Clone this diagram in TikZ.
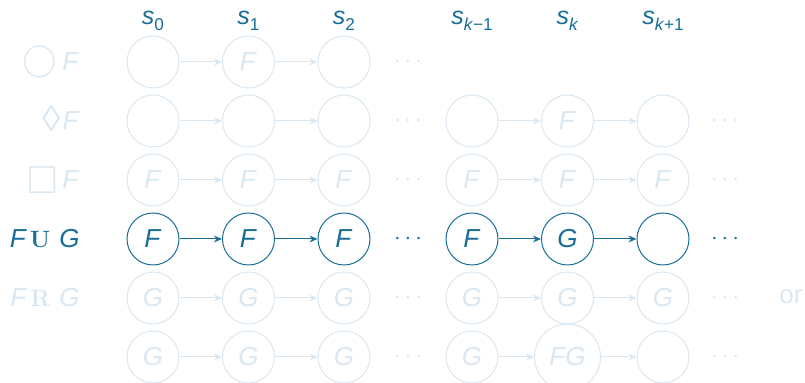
\documentclass[tikz,border=0pt]{standalone}
\usepackage{amssymb}
\usepackage{fontspec}
\setsansfont{Liberation Sans}
\usetikzlibrary{arrows.meta}
\definecolor{mainc}{RGB}{24,110,150}
\definecolor{fadec}{RGB}{218,231,241}
\newcommand\ssub[1]{\raisebox{-0.45ex}{\fontsize{8.6}{10}\selectfont #1}}
\newcommand\stl[1]{\textit{s}\ssub{#1}}
\begin{document}
\begin{tikzpicture}[x=0.5pt,y=-0.5pt,font=\sffamily\fontsize{13}{15}\selectfont,
  st/.style={circle,draw,minimum size=26pt,inner sep=0pt,line width=0.5pt},
  arr/.style={-{Stealth[length=4pt,width=3.4pt]},line width=0.5pt},
  lab/.style={anchor=base east,inner sep=0pt},
  hdr/.style={anchor=base,inner sep=0pt,font=\sffamily\fontsize{12.5}{14}\selectfont},
  dotsn/.style={anchor=base,inner sep=0pt}]
\useasboundingbox (0,0) rectangle (805,383);

% column headers
\begin{scope}[color=mainc]
\node[hdr] (h0) at (153,25) {\stl{0}};
\node[hdr] (h1) at (248.5,25) {\stl{1}};
\node[hdr] (h2) at (344,25) {\stl{2}};
\node[hdr] (h3) at (472,25) {\stl{\textit{k}−1}};
\node[hdr] (h4) at (567.5,25) {\stl{\textit{k}}};
\node[hdr] (h5) at (663,25) {\stl{\textit{k}+1}};
\end{scope}

% row 1: next F
\begin{scope}[color=fadec]
\node[lab] (l1) at (80,71) {{\fontsize{16.5}{16.5}\selectfont$\bigcirc$}\hspace{2.5pt}\textit{F}};
\node[st] (p0) at (153,62) {};
\node[st] (p1) at (248.5,62) {\textit{F}};
\node[st] (p2) at (344,62) {};
\node[dotsn] (pd) at (408,68) {$\cdots$};
\draw[arr] (p0) -- (p1);
\draw[arr] (p1) -- (p2);
\end{scope}

% row 2: eventually F
\begin{scope}[color=fadec]
\node[lab] (l2) at (80,130) {\raisebox{-1pt}{\fontsize{18.5}{18.5}\selectfont ◊}\hspace{1pt}\textit{F}};
\node[st] (q0) at (153,121) {};
\node[st] (q1) at (248.5,121) {};
\node[st] (q2) at (344,121) {};
\node[dotsn] (qd1) at (408,127) {$\cdots$};
\node[st] (q3) at (472,121) {};
\node[st] (q4) at (567.5,121) {\textit{F}};
\node[st] (q5) at (663,121) {};
\node[dotsn] (qd2) at (725,127) {$\cdots$};
\draw[arr] (q0) -- (q1);
\draw[arr] (q1) -- (q2);
\draw[arr] (q3) -- (q4);
\draw[arr] (q4) -- (q5);
\end{scope}

% row 3: always F
\begin{scope}[color=fadec]
\node[lab] (l3) at (80,189) {\raisebox{-2.3pt}{\fontsize{19.5}{19.5}\selectfont$\Box$}\hspace{2.5pt}\textit{F}};
\node[st] (r0) at (153,180) {\textit{F}};
\node[st] (r1) at (248.5,180) {\textit{F}};
\node[st] (r2) at (344,180) {\textit{F}};
\node[dotsn] (rd1) at (408,186) {$\cdots$};
\node[st] (r3) at (472,180) {\textit{F}};
\node[st] (r4) at (567.5,180) {\textit{F}};
\node[st] (r5) at (663,180) {\textit{F}};
\node[dotsn] (rd2) at (725,186) {$\cdots$};
\draw[arr] (r0) -- (r1);
\draw[arr] (r1) -- (r2);
\draw[arr] (r3) -- (r4);
\draw[arr] (r4) -- (r5);
\end{scope}

% row 4: F until G (highlighted)
\begin{scope}[color=mainc]
\node[lab] (l4) at (80,248) {\textit{F}\hspace{1.5pt}{\rmfamily\bfseries\fontsize{11.8}{12}\selectfont U}\hspace{4.5pt}\textit{G}};
\node[st] (u0) at (153,239) {\textit{F}};
\node[st] (u1) at (248.5,239) {\textit{F}};
\node[st] (u2) at (344,239) {\textit{F}};
\node[dotsn] (ud1) at (408,245) {$\cdots$};
\node[st] (u3) at (472,239) {\textit{F}};
\node[st] (u4) at (567.5,239) {\textit{G}};
\node[st] (u5) at (663,239) {};
\node[dotsn] (ud2) at (725,245) {$\cdots$};
\draw[arr] (u0) -- (u1);
\draw[arr] (u1) -- (u2);
\draw[arr] (u3) -- (u4);
\draw[arr] (u4) -- (u5);
\end{scope}

% row 5: F release G
\begin{scope}[color=fadec]
\node[lab] (l5) at (80,307) {\textit{F}\hspace{1.5pt}{\rmfamily\bfseries\fontsize{11.8}{12}\selectfont R}\hspace{4.5pt}\textit{G}};
\node[st] (v0) at (153,298) {\textit{G}};
\node[st] (v1) at (248.5,298) {\textit{G}};
\node[st] (v2) at (344,298) {\textit{G}};
\node[dotsn] (vd1) at (408,304) {$\cdots$};
\node[st] (v3) at (472,298) {\textit{G}};
\node[st] (v4) at (567.5,298) {\textit{G}};
\node[st] (v5) at (663,298) {\textit{G}};
\node[dotsn] (vd2) at (725,304) {$\cdots$};
\node[anchor=base west,inner sep=0pt] (orl) at (779,304) {or};
\draw[arr] (v0) -- (v1);
\draw[arr] (v1) -- (v2);
\draw[arr] (v3) -- (v4);
\draw[arr] (v4) -- (v5);
\end{scope}

% row 6: release alternative
\begin{scope}[color=fadec]
\node[st] (w0) at (153,357) {\textit{G}};
\node[st] (w1) at (248.5,357) {\textit{G}};
\node[st] (w2) at (344,357) {\textit{G}};
\node[dotsn] (wd1) at (408,363) {$\cdots$};
\node[st] (w3) at (472,357) {\textit{G}};
\node[st,minimum size=33pt] (w4) at (567.5,357) {\textit{FG}};
\node[st] (w5) at (663,357) {};
\node[dotsn] (wd2) at (725,363) {$\cdots$};
\draw[arr] (w0) -- (w1);
\draw[arr] (w1) -- (w2);
\draw[arr] (w3) -- (w4);
\draw[arr] (w4) -- (w5);
\end{scope}
\end{tikzpicture}
\end{document}
